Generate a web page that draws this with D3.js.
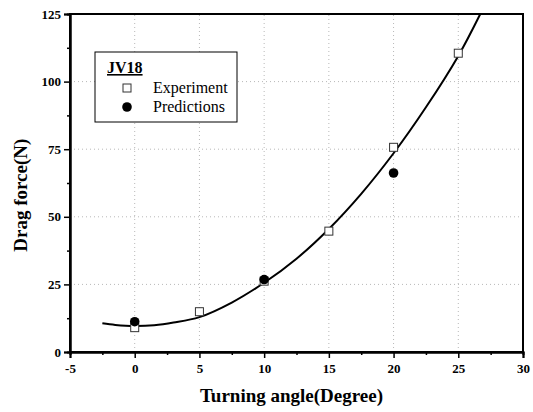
<!doctype html>
<html lang="en">
<head>
<meta charset="utf-8">
<title>Drag force vs turning angle</title>
<script src="https://cdn.jsdelivr.net/npm/d3@7"></script>
<style>
  body { margin: 0; background: #fff; }
  svg text { font-family: "Liberation Serif", "Times New Roman", serif; }
</style>
</head>
<body>
<div id="chart"></div>
<script>
// values
var angles = [0, 5, 10, 15, 20, 25];
var experiment = [9, 14.9, 26.2, 44.7, 75.7, 110.5];
var predAngles = [0, 10, 20];
var predictions = [11.2, 26.8, 66.2];
// fitted curve
var fitAngles = [-2.5, -1.5, 0, 1.5, 3, 5, 7.5, 10, 12.5, 15, 17.5, 20, 22.5, 25, 26.7];
var fitForce = [10.6, 10, 9.6, 9.9, 10.9, 12.9, 18.3, 25.6, 34.5, 45.5, 58.5, 73.5, 90.5, 109.5, 125];
var xTicks = [-5, 0, 5, 10, 15, 20, 25, 30];
var yTicks = [0, 25, 50, 75, 100, 125];

var W = 533, H = 412;
var m = {left: 70, right: 10, top: 14, bottom: 60};

var svg = d3.select("#chart").append("svg").attr("width", W).attr("height", H);

var x = d3.scaleLinear().domain([-5, 30]).range([m.left, W - m.right]);
var y = d3.scaleLinear().domain([0, 125]).range([H - m.bottom, m.top]);

// dotted grid
svg.append("g").selectAll("line").data(xTicks.slice(1, -1)).enter().append("line")
    .attr("x1", d => x(d)).attr("x2", d => x(d))
    .attr("y1", y(0)).attr("y2", y(125))
    .attr("stroke", "#b8b8b8").attr("stroke-width", 1).attr("stroke-dasharray", "1,3");
svg.append("g").selectAll("line").data(yTicks.slice(1, -1)).enter().append("line")
    .attr("x1", x(-5)).attr("x2", x(30))
    .attr("y1", d => y(d)).attr("y2", d => y(d))
    .attr("stroke", "#b8b8b8").attr("stroke-width", 1).attr("stroke-dasharray", "1,3");

// frame
svg.append("rect")
    .attr("x", x(-5)).attr("y", y(125))
    .attr("width", x(30) - x(-5)).attr("height", y(0) - y(125))
    .attr("fill", "none").attr("stroke", "#000").attr("stroke-width", 2);

// axes
var fmt = d => String(d);
var xAxis = svg.append("g").attr("transform", "translate(0," + y(0) + ")")
    .call(d3.axisBottom(x).tickValues(xTicks).tickSize(6).tickPadding(6).tickFormat(fmt));
var xMinor = svg.append("g").attr("transform", "translate(0," + y(0) + ")")
    .call(d3.axisBottom(x).tickValues(d3.range(-2.5, 30, 5)).tickSize(3).tickFormat(""));
var yAxis = svg.append("g").attr("transform", "translate(" + x(-5) + ",0)")
    .call(d3.axisLeft(y).tickValues(yTicks).tickSize(6).tickPadding(3).tickFormat(fmt));
var yMinor = svg.append("g").attr("transform", "translate(" + x(-5) + ",0)")
    .call(d3.axisLeft(y).tickValues(d3.range(12.5, 125, 25)).tickSize(3).tickFormat(""));

[xAxis, xMinor, yAxis, yMinor].forEach(function(g) {
    g.select(".domain").attr("stroke-width", 2);
    g.selectAll(".tick line").attr("stroke-width", 1.5);
    g.selectAll("text").attr("font-size", 13).attr("font-weight", "bold").attr("fill", "#000");
});

// axis titles
svg.append("text")
    .attr("x", (x(-5) + x(30)) / 2 - 5).attr("y", 402)
    .attr("text-anchor", "middle").attr("font-size", 19).attr("font-weight", "bold")
    .text("Turning angle(Degree)");
svg.append("text")
    .attr("transform", "translate(27," + y(58) + ") rotate(-90)")
    .attr("text-anchor", "middle").attr("font-size", 19).attr("font-weight", "bold")
    .text("Drag force(N)");

// fit curve
var line = d3.line().x(d => x(d[0])).y(d => y(d[1])).curve(d3.curveCatmullRom);
svg.append("path")
    .datum(d3.zip(fitAngles, fitForce))
    .attr("d", line)
    .attr("fill", "none").attr("stroke", "#000").attr("stroke-width", 2);

// experiment squares
svg.append("g").selectAll("rect").data(d3.zip(angles, experiment)).enter().append("rect")
    .attr("x", d => x(d[0]) - 4).attr("y", d => y(d[1]) - 4)
    .attr("width", 8).attr("height", 8)
    .attr("fill", "#fff").attr("stroke", "#333").attr("stroke-width", 1);

// prediction dots
svg.append("g").selectAll("circle").data(d3.zip(predAngles, predictions)).enter().append("circle")
    .attr("cx", d => x(d[0])).attr("cy", d => y(d[1])).attr("r", 4.8)
    .attr("fill", "#000");

// legend
var lg = svg.append("g");
lg.append("rect").attr("x", 95).attr("y", 52).attr("width", 142).attr("height", 70)
    .attr("fill", "#fff").attr("stroke", "#000").attr("stroke-width", 1);
lg.append("text").attr("x", 107).attr("y", 73).attr("font-size", 16).attr("font-weight", "bold")
    .attr("text-decoration", "underline").text("JV18");
lg.append("rect").attr("x", 123).attr("y", 84).attr("width", 8).attr("height", 8)
    .attr("fill", "#fff").attr("stroke", "#333");
lg.append("text").attr("x", 153).attr("y", 93).attr("font-size", 16).text("Experiment");
lg.append("circle").attr("cx", 127).attr("cy", 107).attr("r", 4.8).attr("fill", "#000");
lg.append("text").attr("x", 153).attr("y", 112).attr("font-size", 16).text("Predictions");
</script>
</body>
</html>
